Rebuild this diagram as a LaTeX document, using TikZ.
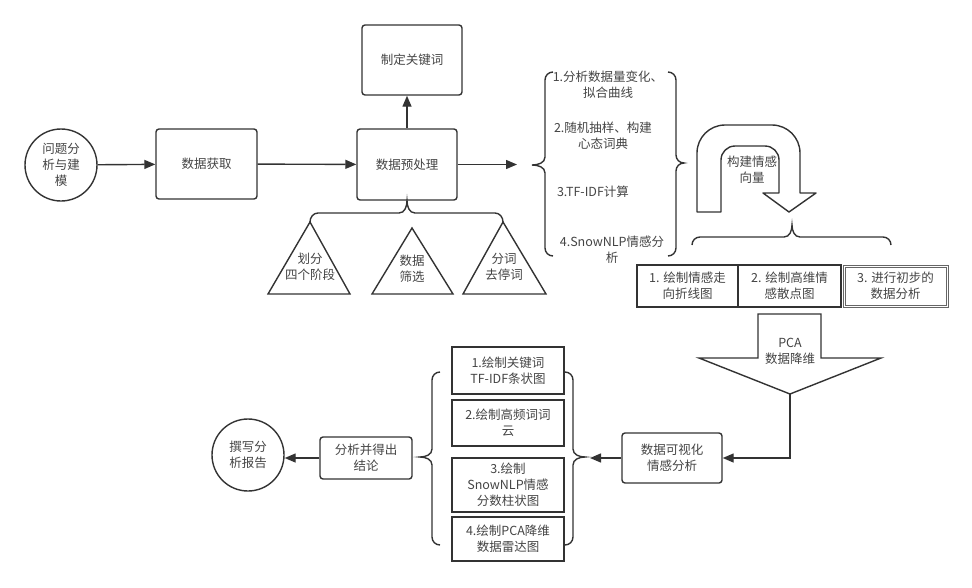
\documentclass[tikz,border=0pt]{standalone}
\usepackage{fontspec}
\setmainfont{Noto Sans CJK SC}
\usetikzlibrary{arrows.meta}
\definecolor{ln}{HTML}{333333}
\definecolor{tx}{HTML}{444444}
\definecolor{lg}{HTML}{666666}
\tikzset{
  base/.style={draw=ln, line width=1.4pt, text=tx, align=center, font=\fontsize{12.5}{16}\selectfont, inner sep=0pt},
  rbox/.style={base, rectangle, rounded corners=3pt},
  sbox/.style={base, rectangle},
  cnode/.style={base, circle},
  lbl/.style={text=tx, align=center, font=\fontsize{12.5}{16}\selectfont, inner sep=0pt},
  conn/.style={draw=ln, line width=1.4pt, -{Triangle[length=11pt,width=9pt]}},
  brc/.style={draw=ln, line width=1.4pt},
  shp/.style={draw=ln, line width=1.4pt, fill=white, line join=miter},
}
\begin{document}
\begin{tikzpicture}[x=1pt,y=-1pt]
\useasboundingbox (0,0) rectangle (972,587);

% top row
\node[cnode, minimum size=72pt] (start) at (61,165) {问题分\\析与建\\模};
\node[rbox, minimum width=101pt, minimum height=70pt] (get) at (206.5,164) {数据获取};
\node[rbox, minimum width=100pt, minimum height=71pt] (pre) at (407,164.5) {数据预处理};
\node[rbox, minimum width=100pt, minimum height=70pt] (kw) at (412,60) {制定关键词};
\coordinate (bt) at (532,165);
\coordinate (preend) at (517,164.5);

\draw[conn] (start) -- (get);
\draw[conn] (get) -- (pre);
\draw[conn] (pre.north) -- (pre.north |- kw.south);
\draw[conn] (pre.east) -- (preend);

% brace under preprocessing
\draw[brc] (310,222) to[out=90,in=180] (318,213) -- (399,213) to[out=0,in=-90] (pre.south) to[out=-90,in=180] (415,213) -- (495,213) to[out=0,in=90] (503,222);

% triangles
\draw[shp] (310,222) -- (350,294) -- (268,294) -- cycle;
\draw[shp] (412,228) -- (453,294) -- (372,294) -- cycle;
\draw[shp] (503,222) -- (546,294) -- (463,294) -- cycle;
\node[lbl] (t1) at (310,267) {划分\\四个阶段};
\node[lbl] (t2) at (412,269) {数据\\筛选};
\node[lbl] (t3) at (504,267) {分词\\去停词};

% big brace
\draw[brc] (553,72) to[out=180,in=90] (545,80) -- (545,157) to[out=-90,in=0] (bt) to[out=0,in=90] (545,173) -- (545,248) to[out=-90,in=180] (553,256);
\draw[brc] (668,72) to[out=0,in=90] (676,80) -- (676,155) to[out=-90,in=180] (684,163) to[out=180,in=90] (676,171) -- (676,248) to[out=-90,in=0] (668,256);
\node[lbl] (s1) at (608,85) {1.分析数据量变化、\\拟合曲线};
\node[lbl] (s2) at (603,136) {2.随机抽样、构建\\心态词典};
\node[lbl] (s3) at (593,192) {3.TF-IDF计算};
\node[lbl] (s4) at (612,250) {4.SnowNLP情感分\\析};

% U-turn arrow
\draw[shp, line join=round] (697,212) -- (697,153) arc[start angle=180,end angle=270,radius=28] -- (772,125) arc[start angle=270,end angle=360,radius=28] -- (800,193) -- (816,193) -- (789,212) -- (763,193) -- (779,193) -- (779,160) arc[start angle=0,end angle=-90,radius=14] -- (735,146) arc[start angle=-90,end angle=-180,radius=14] -- (721,212) -- cycle;
\node[lbl] (uv) at (752,170) {构建情感\\向量};

% horizontal brace
\draw[brc] (692,245) to[out=90,in=180] (700,237) -- (784,237) to[out=0,in=-90] (792,225) to[out=-90,in=180] (800,237) -- (883,237) to[out=0,in=90] (891,245);

% three boxes
\node[sbox, minimum width=101pt, minimum height=42pt] (m1) at (687.5,286) {1. 绘制情感走\\向折线图};
\node[sbox, minimum width=103pt, minimum height=42pt] (m2) at (789.5,286) {2. 绘制高维情\\感散点图};
\node[sbox, draw=lg, line width=1pt, minimum width=105pt, minimum height=42pt] (m3) at (895.5,286) {3. 进行初步的\\数据分析};
\draw[draw=lg, line width=0.8pt] ([shift={(2.5,2.5)}]m3.north west) rectangle ([shift={(-2.5,-2.5)}]m3.south east);

% PCA arrow
\draw[shp] (758,314) -- (821,314) -- (821,358) -- (881,358) -- (790,394) -- (699,358) -- (758,358) -- cycle;
\node[lbl] (pca) at (790,351) {PCA\\数据降维};
\coordinate (pcatip) at (790,394);

% visualization
\node[rbox, minimum width=100pt, minimum height=50pt] (viz) at (672,458) {数据可视化\\情感分析};
\draw[conn] (pcatip) |- (viz.east);
\coordinate (lbtip) at (590,458);
\draw[conn] (viz.west) -- (lbtip);

% lower braces
\draw[brc] (440,372) to[out=180,in=90] (432,380) -- (432,449) to[out=-90,in=0] (420,457) to[out=0,in=90] (432,465) -- (432,537) to[out=-90,in=180] (440,545);
\draw[brc] (565,372) to[out=0,in=90] (573,380) -- (573,449) to[out=-90,in=180] (585,457) to[out=180,in=90] (573,465) -- (573,537) to[out=-90,in=0] (565,545);

\node[sbox, minimum width=112pt, minimum height=47pt] (l1) at (508,370.5) {1.绘制关键词\\TF-IDF条状图};
\node[sbox, minimum width=112pt, minimum height=46pt] (l2) at (508,423) {2.绘制高频词词\\云};
\node[sbox, minimum width=112pt, minimum height=54pt] (l3) at (508,485) {3.绘制\\SnowNLP情感\\分数柱状图};
\node[sbox, minimum width=112pt, minimum height=44pt] (l4) at (508,539) {4.绘制PCA降维\\数据雷达图};

% conclusion
\node[rbox, minimum width=92pt, minimum height=42pt] (conc) at (366,458) {分析并得出\\结论};
\node[cnode, minimum size=72pt] (rep) at (248,455) {撰写分\\析报告};
\draw[conn] (conc.west) -- (rep.east |- conc.west);
\end{tikzpicture}
\end{document}
